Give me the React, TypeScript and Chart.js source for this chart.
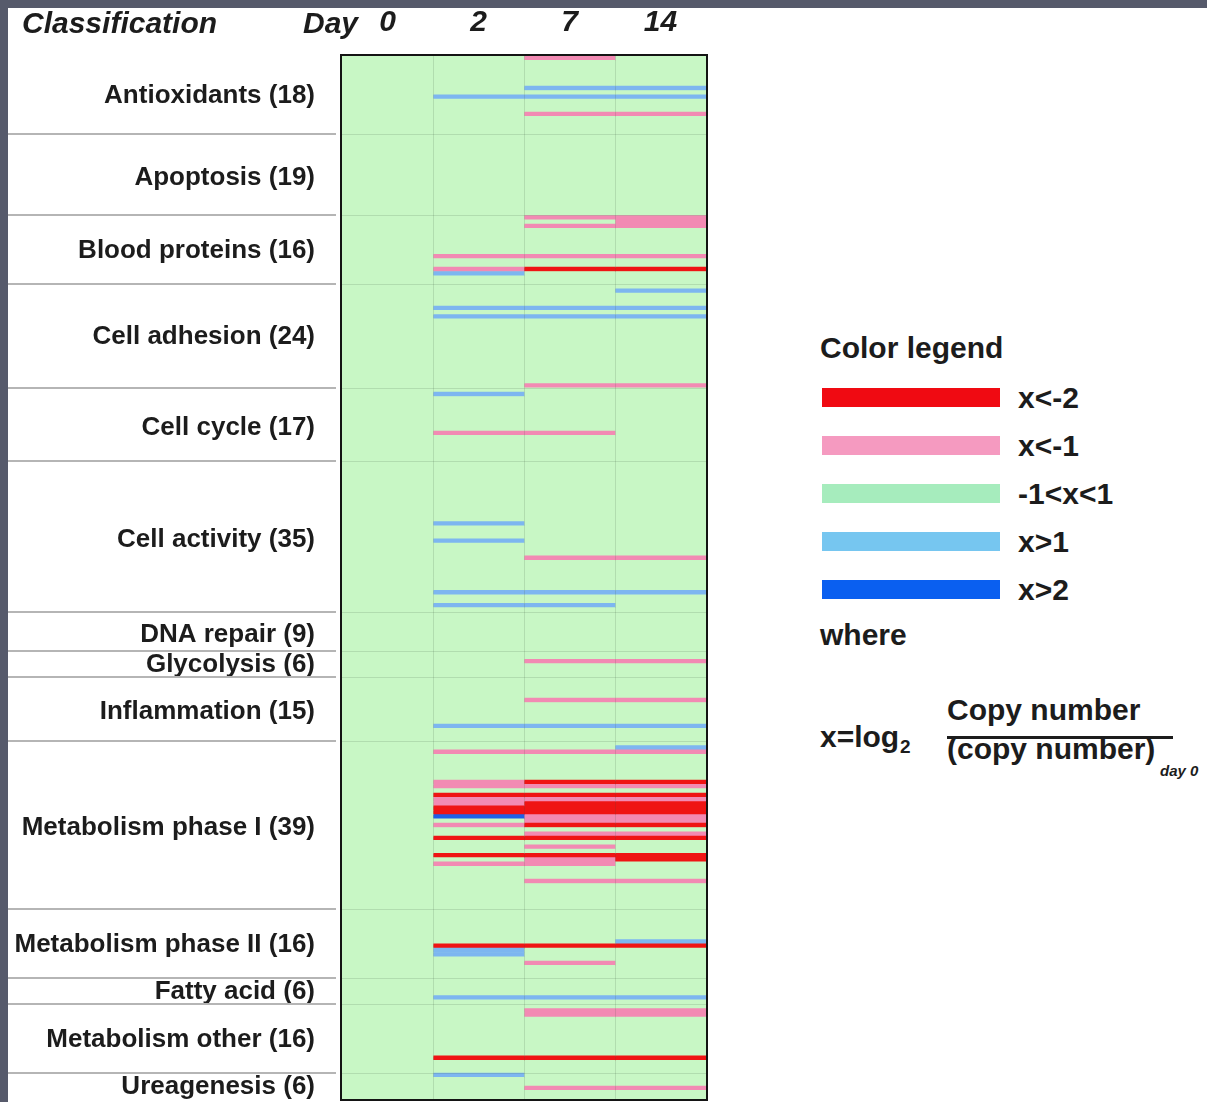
import React, { useEffect, useRef } from "react";
import { Chart, registerables } from "chart.js";

Chart.register(...registerables);

// ---------- data ----------
const GROUP_NAMES = [
  "Antioxidants", "Apoptosis", "Blood proteins", "Cell adhesion", "Cell cycle",
  "Cell activity", "DNA repair", "Glycolysis", "Inflammation", "Metabolism phase I",
  "Metabolism phase II", "Fatty acid", "Metabolism other", "Ureagenesis",
];
const GROUP_SIZES = [18, 19, 16, 24, 17, 35, 9, 6, 15, 39, 16, 6, 16, 6];
const DAY_LABELS = ["0", "2", "7", "14"];

// Rows that differ from day 0: [row within group, log2 day 2, log2 day 7, log2 day 14]
// (all other rows are within -1<x<1; day 0 is the reference, x = 0)
const ANTIOXIDANTS_CHANGES = [[0, 0, -1.5, 0], [7, 0, 1.5, 1.5], [9, 1.5, 1.5, 1.5], [13, 0, -1.5, -1.5]];
const APOPTOSIS_CHANGES: number[][] = [];
const BLOOD_PROTEINS_CHANGES = [[0, 0, -1.5, -1.5], [1, 0, 0, -1.5], [2, 0, -1.5, -1.5], [9, -1.5, -1.5, -1.5], [12, -1.5, -2.5, -2.5], [13, 1.5, 0, 0]];
const CELL_ADHESION_CHANGES = [[1, 0, 0, 1.5], [5, 1.5, 1.5, 1.5], [7, 1.5, 1.5, 1.5], [23, 0, -1.5, -1.5]];
const CELL_CYCLE_CHANGES = [[1, 1.5, 0, 0], [10, -1.5, -1.5, 0]];
const CELL_ACTIVITY_CHANGES = [[14, 1.5, 0, 0], [18, 1.5, 0, 0], [22, 0, -1.5, -1.5], [30, 1.5, 1.5, 1.5], [33, 1.5, 1.5, 0]];
const DNA_REPAIR_CHANGES: number[][] = [];
const GLYCOLYSIS_CHANGES = [[2, 0, -1.5, -1.5]];
const INFLAMMATION_CHANGES = [[5, 0, -1.5, -1.5], [11, 1.5, 1.5, 1.5]];
const METABOLISM_I_CHANGES = [
  [1, 0, 0, 1.5], [2, -1.5, -1.5, -1.5], [9, -1.5, -2.5, -2.5], [10, -1.5, -1.5, -1.5],
  [12, -2.5, -2.5, -2.5], [13, -1.5, -1.5, -1.5], [14, -1.5, -2.5, -2.5], [15, -2.5, -2.5, -2.5],
  [16, -2.5, -2.5, -2.5], [17, 2.5, -1.5, -1.5], [18, 0, -1.5, -1.5], [19, -1.5, -2.5, -2.5],
  [21, 0, -1.5, -1.5], [22, -2.5, -2.5, -2.5], [24, 0, -1.5, 0], [26, -2.5, -2.5, -2.5],
  [27, 0, -1.5, -2.5], [28, -1.5, -1.5, 0], [32, 0, -1.5, -1.5],
];
const METABOLISM_II_CHANGES = [[7, 0, 0, 1.5], [8, -2.5, -2.5, -2.5], [9, 1.5, 0, 0], [10, 1.5, 0, 0], [12, 0, -1.5, 0]];
const FATTY_ACID_CHANGES = [[4, 1.5, 1.5, 1.5]];
const METABOLISM_OTHER_CHANGES = [[1, 0, -1.5, -1.5], [2, 0, -1.5, -1.5], [12, -2.5, -2.5, -2.5]];
const UREAGENESIS_CHANGES = [[0, 1.5, 0, 0], [3, 0, -1.5, -1.5]];

const GROUP_CHANGES = [
  ANTIOXIDANTS_CHANGES, APOPTOSIS_CHANGES, BLOOD_PROTEINS_CHANGES, CELL_ADHESION_CHANGES,
  CELL_CYCLE_CHANGES, CELL_ACTIVITY_CHANGES, DNA_REPAIR_CHANGES, GLYCOLYSIS_CHANGES,
  INFLAMMATION_CHANGES, METABOLISM_I_CHANGES, METABOLISM_II_CHANGES, FATTY_ACID_CHANGES,
  METABOLISM_OTHER_CHANGES, UREAGENESIS_CHANGES,
];

const LEGEND_LABELS = ["x<-2", "x<-1", "-1<x<1", "x>1", "x>2"];

// ---------- styles ----------
const FONT = "'Liberation Sans', Arial, Helvetica, sans-serif";
const TEXT = "#1c1c1c";
const PAGE_BG = "#565a6b";
const RED = "#ef1414";
const PINK = "#f28ab3";
const GREEN = "#c8f7c5";
const LIGHT_BLUE = "#7db6f0";
const BLUE = "#1f5fe6";
const LEGEND_SWATCHES = ["#f00a12", "#f59ac0", "#a6ecbd", "#76c6f0", "#0a5ff0"];

const colorFor = (v: number) =>
  v < -2 ? RED : v < -1 ? PINK : v > 2 ? BLUE : v > 1 ? LIGHT_BLUE : GREEN;

// ---------- build rows ----------
const ROWS: number[][] = [];
const TICK_TEXT: string[] = [];
const BOUNDARIES: number[] = [];
GROUP_SIZES.forEach((size, g) => {
  const start = ROWS.length;
  for (let i = 0; i < size; i++) ROWS.push([0, 0, 0, 0]);
  GROUP_CHANGES[g].forEach(([r, d2, d7, d14]) => {
    ROWS[start + r] = [0, d2, d7, d14];
  });
  TICK_TEXT[start + Math.floor((size - 1) / 2)] = `${GROUP_NAMES[g]} (${size})`;
  BOUNDARIES.push(start + size);
});
const ROW_LABELS = ROWS.map((_, i) => String(i));

const decorPlugin = {
  id: "heatmapDecor",
  beforeDatasetsDraw(chart: any) {
    const { ctx, chartArea: a } = chart;
    ctx.save();
    ctx.fillStyle = GREEN;
    ctx.fillRect(a.left, a.top, a.right - a.left, a.bottom - a.top);
    ctx.restore();
  },
  afterDatasetsDraw(chart: any) {
    const { ctx, chartArea: a, scales } = chart;
    ctx.save();
    ctx.lineWidth = 1;
    ctx.strokeStyle = "rgba(60,90,60,0.16)";
    for (let c = 1; c < DAY_LABELS.length; c++) {
      const px = Math.round(scales.x.getPixelForValue(c)) + 0.5;
      ctx.beginPath();
      ctx.moveTo(px, a.top);
      ctx.lineTo(px, a.bottom);
      ctx.stroke();
    }
    BOUNDARIES.slice(0, -1).forEach((k) => {
      const py = Math.round(scales.y.getPixelForValue(k - 0.5)) + 0.5;
      ctx.beginPath();
      ctx.moveTo(a.left, py);
      ctx.lineTo(a.right, py);
      ctx.stroke();
    });
    ctx.restore();
  },
  afterDraw(chart: any) {
    const { ctx, chartArea: a, scales } = chart;
    ctx.save();
    ctx.strokeStyle = "#b5b5b5";
    ctx.lineWidth = 2;
    BOUNDARIES.slice(0, -1).forEach((k) => {
      const py = Math.round(scales.y.getPixelForValue(k - 0.5));
      ctx.beginPath();
      ctx.moveTo(0, py);
      ctx.lineTo(a.left - 6, py);
      ctx.stroke();
    });
    ctx.strokeStyle = "#141414";
    ctx.lineWidth = 2;
    ctx.strokeRect(a.left - 1, a.top - 1, a.right - a.left + 2, a.bottom - a.top + 2);
    ctx.restore();
  },
};

function Txt(props: {
  x: number; baseline: number; size: number; children: any; italic?: boolean; weight?: number;
}) {
  const { x, baseline, size, children, italic, weight = 700 } = props;
  return (
    <div
      style={{
        position: "absolute", left: x, top: baseline - 0.8465 * size, fontSize: size,
        lineHeight: "1", fontWeight: weight, fontStyle: italic ? "italic" : "normal",
        whiteSpace: "nowrap", color: TEXT, fontFamily: FONT,
      }}
    >
      {children}
    </div>
  );
}

export default function App() {
  const canvasRef = useRef<HTMLCanvasElement>(null);

  useEffect(() => {
    document.documentElement.style.overflow = "hidden";
    document.body.style.background = PAGE_BG;
    const datasets = DAY_LABELS.map((d, c) => ({
      label: "Day " + d,
      data: ROWS.map(() => [c, c + 1]),
      backgroundColor: ROWS.map((r) => colorFor(r[c])),
      borderWidth: 0,
      borderSkipped: false,
      grouped: false,
      categoryPercentage: 1,
      barPercentage: 1,
    }));
    const chart = new Chart(canvasRef.current as HTMLCanvasElement, {
      type: "bar",
      data: { labels: ROW_LABELS, datasets: datasets as any },
      plugins: [decorPlugin],
      options: {
        indexAxis: "y",
        responsive: false,
        animation: false,
        layout: { padding: { left: 0, right: 22, top: 0, bottom: 3 } },
        plugins: { legend: { display: false }, tooltip: { enabled: false } },
        scales: {
          x: {
            type: "linear",
            position: "top",
            min: 0,
            max: DAY_LABELS.length,
            grid: { display: false },
            border: { display: false },
            afterBuildTicks: (axis: any) => {
              axis.ticks = DAY_LABELS.map((_, i) => ({ value: i + 0.5 }));
            },
            afterFit: (axis: any) => {
              axis.height = 48;
              axis.paddingLeft = 0;
              axis.paddingRight = 0;
            },
            ticks: {
              autoSkip: false,
              maxRotation: 0,
              padding: 7,
              color: TEXT,
              font: { family: FONT, size: 30, weight: "bold", style: "italic" },
              callback: (_v: any, i: number) => DAY_LABELS[i],
            },
          },
          y: {
            type: "category",
            grid: { display: false, drawTicks: false },
            border: { display: false },
            afterFit: (axis: any) => {
              axis.width = 334;
              axis.paddingTop = 0;
              axis.paddingBottom = 0;
            },
            ticks: {
              autoSkip: false,
              padding: 27,
              labelOffset: 3,
              color: TEXT,
              font: { family: FONT, size: 26, weight: "bold" },
              callback: (_v: any, i: number) => TICK_TEXT[i] || "",
            },
          },
        },
      } as any,
    });
    return () => chart.destroy();
  }, []);

  return (
    <div
      style={{
        position: "fixed", left: 8, top: 8, right: 0, bottom: 0, background: "#ffffff",
        overflow: "hidden", fontFamily: FONT,
      }}
    >
      <canvas
        ref={canvasRef}
        width={720}
        height={1094}
        style={{ position: "absolute", left: 0, top: 0, width: 720, height: 1094 }}
      />
      <Txt x={14} baseline={25} size={30} italic>Classification</Txt>
      <Txt x={295} baseline={25} size={30} italic>Day</Txt>

      <Txt x={812} baseline={350} size={30}>Color legend</Txt>
      {LEGEND_LABELS.map((lab, i) => (
        <React.Fragment key={lab}>
          <div
            style={{
              position: "absolute", left: 814, top: 380 + i * 48, width: 178, height: 19,
              background: LEGEND_SWATCHES[i],
            }}
          />
          <Txt x={1010} baseline={380 + i * 48 + 20} size={30}>{lab}</Txt>
        </React.Fragment>
      ))}
      <Txt x={812} baseline={637} size={30}>where</Txt>
      <Txt x={812} baseline={739} size={30}>x=log</Txt>
      <Txt x={892} baseline={745} size={19}>2</Txt>
      <Txt x={939} baseline={712} size={30}>Copy number</Txt>
      <div style={{ position: "absolute", left: 939, top: 728, width: 226, height: 3, background: TEXT }} />
      <Txt x={939} baseline={751} size={30}>(copy number)</Txt>
      <Txt x={1152} baseline={768} size={15} italic>day 0</Txt>
    </div>
  );
}
